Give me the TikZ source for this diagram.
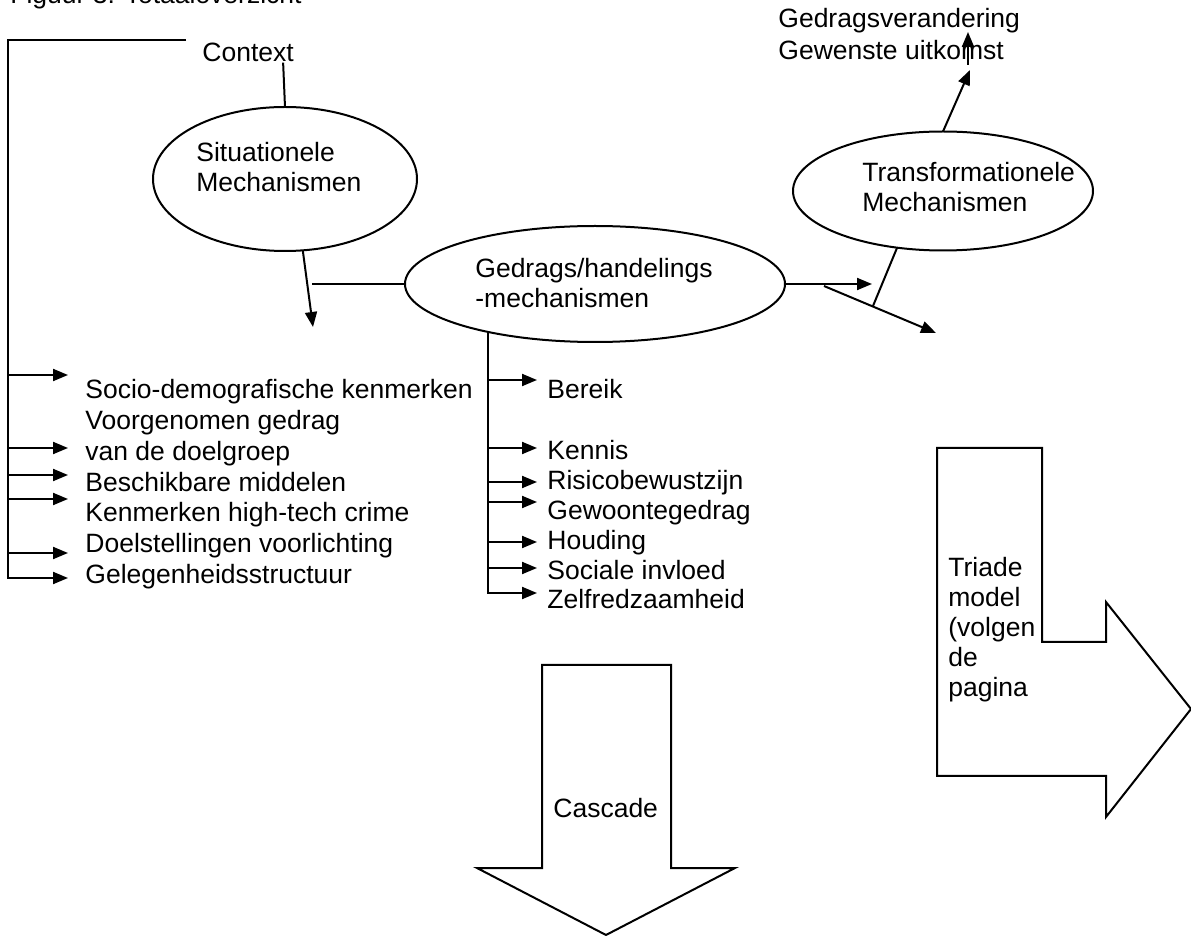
\documentclass[tikz,border=0pt]{standalone}
\usepackage{fontspec}
\setmainfont{Liberation Sans}
\usetikzlibrary{arrows.meta}
\usetikzlibrary{shapes.geometric}

\tikzset{
  arr/.style={-{Triangle[length=7.5pt,width=6pt]}, line width=1pt},
  mech/.style={draw, ellipse, line width=1pt, inner sep=0pt, outer sep=0pt},
  lbl/.style={anchor=base west, inner sep=0pt, font=\fontsize{13.25pt}{15pt}\selectfont},
  bigarrow/.style={draw, line width=1pt, line join=miter}
}

\begin{document}
\begin{tikzpicture}[x=0.5pt, y=-0.5pt]

\useasboundingbox (0,0) rectangle (1191,936);

% title, cut off by the page edge
\node[lbl] (title) at (10,4) {Figuur 3: Totaaloverzicht};

% mechanisms:
\node[mech, minimum width=132pt, minimum height=72pt] (situationeel) at (285,179) {};
\node[lbl] (sit_a) at (196,162) {Situationele};
\node[lbl] (sit_b) at (196,192) {Mechanismen};

\node[mech, minimum width=190pt, minimum height=58pt] (gedrag) at (595,284) {};
\node[lbl] (ged_a) at (475,278) {Gedrags/handelings};
\node[lbl] (ged_b) at (475,308) {-mechanismen};

\node[mech, minimum width=150pt, minimum height=59.5pt] (transform) at (943,191) {};
\node[lbl] (trans_a) at (862,182) {Transformationele};
\node[lbl] (trans_b) at (862,212) {Mechanismen};

\node[lbl] (context) at (202,62) {Context};
\node[lbl] (verandering) at (778,28) {Gedragsverandering};
\node[lbl] (uitkomst) at (778,60) {Gewenste uitkomst};

% free ends
\coordinate (left_top) at (186,40);
\coordinate (left_bar) at (8,40);
\coordinate (left_bot) at (8,578);
\coordinate (sit_end) at (313,327);
\coordinate (sit_join) at (312,284);
\coordinate (ged_end) at (872,284);
\coordinate (diag_start) at (824,286);
\coordinate (diag_end) at (936,333);
\coordinate (trans_foot) at (873,306);
\coordinate (trans_end) at (970,70);
\coordinate (up_start) at (968,65);
\coordinate (up_end) at (968,32);

% situational side
\draw[line width=1pt] ([xshift=-5.5pt]context.south east) -- (situationeel.north);
\draw[arr] (situationeel.-76) -- (sit_end);
\draw[line width=1pt] (sit_join) -- (gedrag.west);

% transformational side
\draw[arr] (gedrag.east) -- (ged_end);
\draw[arr] (diag_start) -- (diag_end);
\draw[line width=1pt] (transform.-129) -- (trans_foot);
\draw[arr] (transform.north) -- (trans_end);
\draw[arr] (up_start) -- (up_end);

% context list
\node[lbl] (socio) at (85,399) {Socio-demografische kenmerken};
\node[lbl] (voorgenomen) at (85,430) {Voorgenomen gedrag};
\node[lbl] (doelgroep) at (85,461) {van de doelgroep};
\node[lbl] (middelen) at (85,492) {Beschikbare middelen};
\node[lbl] (crime) at (85,522) {Kenmerken high-tech crime};
\node[lbl] (doelen) at (85,553) {Doelstellingen voorlichting};
\node[lbl] (gelegenheid) at (85,584) {Gelegenheidsstructuur};

\coordinate (to_socio) at (68,375);
\coordinate (to_doelgroep) at (68,448);
\coordinate (to_middelen) at (68,475);
\coordinate (to_crime) at (68,499);
\coordinate (to_doelen) at (68,553);

\draw[arr] (left_top) -- (left_bar) -- (left_bot) -- (left_bot -| to_socio);
\draw[arr] (to_socio -| left_bar) -- (to_socio);
\draw[arr] (to_doelgroep -| left_bar) -- (to_doelgroep);
\draw[arr] (to_middelen -| left_bar) -- (to_middelen);
\draw[arr] (to_crime -| left_bar) -- (to_crime);
\draw[arr] (to_doelen -| left_bar) -- (to_doelen);

% behaviour list
\node[lbl] (bereik) at (547,399) {Bereik};
\node[lbl] (kennis) at (547,460) {Kennis};
\node[lbl] (risico) at (547,490) {Risicobewustzijn};
\node[lbl] (gewoonte) at (547,520) {Gewoontegedrag};
\node[lbl] (houding) at (547,550) {Houding};
\node[lbl] (invloed) at (547,580) {Sociale invloed};
\node[lbl] (zelfred) at (547,609) {Zelfredzaamheid};

\coordinate (to_bereik) at (537,380);
\coordinate (to_kennis) at (537,448);
\coordinate (to_risico) at (537,482);
\coordinate (to_gewoonte) at (537,502);
\coordinate (to_houding) at (537,542);
\coordinate (to_invloed) at (537,568);
\coordinate (to_zelfred) at (537,593);

\draw[arr] (gedrag.-156) -- (gedrag.-156 |- to_zelfred) -- (to_zelfred);
\draw[arr] (to_bereik -| gedrag.-156) -- (to_bereik);
\draw[arr] (to_kennis -| gedrag.-156) -- (to_kennis);
\draw[arr] (to_risico -| gedrag.-156) -- (to_risico);
\draw[arr] (to_gewoonte -| gedrag.-156) -- (to_gewoonte);
\draw[arr] (to_houding -| gedrag.-156) -- (to_houding);
\draw[arr] (to_invloed -| gedrag.-156) -- (to_invloed);

% cascade arrow
\draw[bigarrow] (542,665) -- (671,665) -- (671,868) -- (735,868) -- (606,935)
  -- (477,868) -- (542,868) -- cycle;
\node[lbl] (cascade) at (553,818) {Cascade};

% triade arrow
\draw[bigarrow] (937,448) -- (1042,448) -- (1042,642) -- (1106,642) -- (1106,602)
  -- (1191,709) -- (1106,817) -- (1106,776) -- (937,776) -- cycle;
\node[lbl] (triade_a) at (948,577) {Triade};
\node[lbl] (triade_b) at (948,607) {model};
\node[lbl] (triade_c) at (948,637) {(volgen};
\node[lbl] (triade_d) at (948,667) {de};
\node[lbl] (triade_e) at (948,697) {pagina};

\end{tikzpicture}
\end{document}
